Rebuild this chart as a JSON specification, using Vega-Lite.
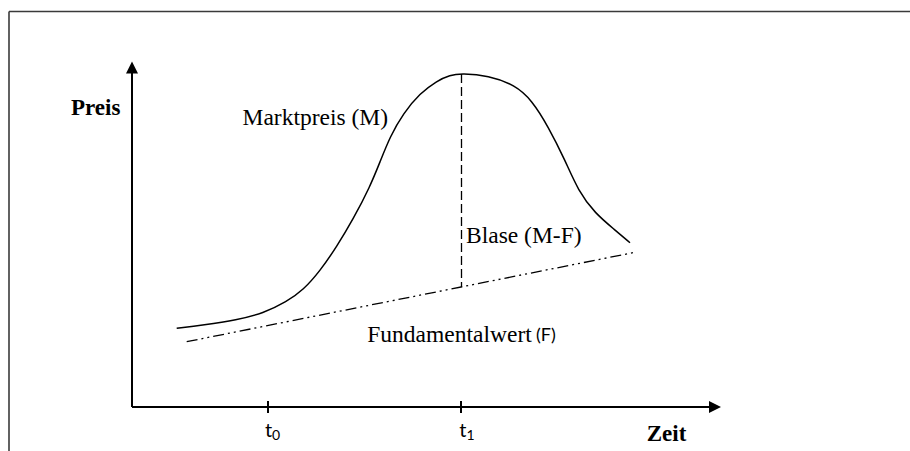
{
  "$schema": "https://vega.github.io/schema/vega-lite/v6.json",
  "width": 910,
  "height": 451,
  "padding": 0,
  "autosize": {"type": "none"},
  "background": "white",
  "view": {"stroke": null},
  "config": {"axis": {"disable": true}},
  "datasets": {
    "market": [
      {"t": 4.47, "p": 7.87}, {"t": 7.13, "p": 8.2}, {"t": 10.47, "p": 8.7}, {"t": 13.13, "p": 9.37},
      {"t": 15.47, "p": 10.53}, {"t": 17.13, "p": 11.7}, {"t": 18.8, "p": 13.6}, {"t": 20.47, "p": 16.03},
      {"t": 22.13, "p": 18.8}, {"t": 23.8, "p": 22.03}, {"t": 24.8, "p": 24.5}, {"t": 25.8, "p": 27.03},
      {"t": 27.13, "p": 29.37}, {"t": 28.8, "p": 31.37}, {"t": 30.47, "p": 32.6}, {"t": 31.8, "p": 33.2},
      {"t": 32.97, "p": 33.35}, {"t": 35.63, "p": 33.15}, {"t": 38.3, "p": 32.2}, {"t": 39.97, "p": 30.7},
      {"t": 41.63, "p": 28.03}, {"t": 43.3, "p": 24.7}, {"t": 44.63, "p": 21.6}, {"t": 46.3, "p": 19.37},
      {"t": 48.3, "p": 17.7}, {"t": 49.8, "p": 16.43}
    ],
    "fundamental": [
      {"t": 5.47, "p": 6.53}, {"t": 50.3, "p": 15.47}
    ],
    "segments": [
      {"kind": "frame", "x": -12.3, "x2": 77.8, "y": 39.55, "y2": 39.55},
      {"kind": "frame", "x": -12.3, "x2": -12.3, "y": 39.55, "y2": -4.4},
      {"kind": "axis", "x": 0, "x2": 0, "y": 0, "y2": 33.9},
      {"kind": "axis", "x": 0, "x2": 58.0, "y": 0, "y2": 0},
      {"kind": "axis", "x": 13.6, "x2": 13.6, "y": -0.6, "y2": 0.6},
      {"kind": "axis", "x": 32.9, "x2": 32.9, "y": -0.6, "y2": 0.6},
      {"kind": "bubble", "x": 32.95, "x2": 32.95, "y": 33.3, "y2": 12.0}
    ],
    "arrows": [
      {"dir": "up", "x": 0, "y": 33.95},
      {"dir": "right", "x": 58.3, "y": 0}
    ],
    "labels": [
      {"kind": "boldserif", "x": -6.1, "y": 29.2, "text": "Preis"},
      {"kind": "boldserif", "x": 51.47, "y": -3.4, "text": "Zeit"},
      {"kind": "serif", "x": 11.05, "y": 28.2, "text": "Marktpreis (M)"},
      {"kind": "serif", "x": 33.4, "y": 16.43, "text": "Blase (M-F)"},
      {"kind": "serif", "x": 23.53, "y": 6.53, "text": "Fundamentalwert"},
      {"kind": "sans", "x": 40.4, "y": 6.6, "text": "(F)"},
      {"kind": "tick", "x": 13.3, "y": -3.0, "text": "t"},
      {"kind": "tick", "x": 32.73, "y": -3.0, "text": "t"},
      {"kind": "sub", "x": 14.0, "y": -3.3, "text": "0"},
      {"kind": "sub", "x": 33.45, "y": -3.3, "text": "1"}
    ]
  },
  "layer": [
    {
      "data": {"name": "segments"},
      "transform": [{"filter": "datum.kind === 'frame'"}],
      "mark": {"type": "rule", "color": "#3a3a3a", "strokeWidth": 1.6},
      "encoding": {
        "x": {"field": "x", "type": "quantitative", "scale": {"domain": [-13.2, 77.8], "nice": false, "zero": false}, "axis": null},
        "x2": {"field": "x2"},
        "y": {"field": "y", "type": "quantitative", "scale": {"domain": [-4.4, 40.7], "nice": false, "zero": false}, "axis": null},
        "y2": {"field": "y2"}
      }
    },
    {
      "data": {"name": "segments"},
      "transform": [{"filter": "datum.kind === 'axis'"}],
      "mark": {"type": "rule", "color": "black", "strokeWidth": 2},
      "encoding": {
        "x": {"field": "x", "type": "quantitative"},
        "x2": {"field": "x2"},
        "y": {"field": "y", "type": "quantitative"},
        "y2": {"field": "y2"}
      }
    },
    {
      "data": {"name": "segments"},
      "transform": [{"filter": "datum.kind === 'bubble'"}],
      "mark": {"type": "rule", "color": "black", "strokeWidth": 1.3, "strokeDash": [9, 4]},
      "encoding": {
        "x": {"field": "x", "type": "quantitative"},
        "x2": {"field": "x2"},
        "y": {"field": "y", "type": "quantitative"},
        "y2": {"field": "y2"}
      }
    },
    {
      "data": {"name": "arrows"},
      "transform": [{"filter": "datum.dir === 'up'"}],
      "mark": {"type": "point", "shape": "M0,-1L1,1L-1,1Z", "size": 144, "filled": true, "color": "black", "opacity": 1},
      "encoding": {
        "x": {"field": "x", "type": "quantitative"},
        "y": {"field": "y", "type": "quantitative"}
      }
    },
    {
      "data": {"name": "arrows"},
      "transform": [{"filter": "datum.dir === 'right'"}],
      "mark": {"type": "point", "shape": "M1,0L-1,-1L-1,1Z", "size": 144, "filled": true, "color": "black", "opacity": 1},
      "encoding": {
        "x": {"field": "x", "type": "quantitative"},
        "y": {"field": "y", "type": "quantitative"}
      }
    },
    {
      "data": {"name": "market"},
      "mark": {"type": "line", "color": "black", "strokeWidth": 1.5, "interpolate": "basis"},
      "encoding": {
        "x": {"field": "t", "type": "quantitative"},
        "y": {"field": "p", "type": "quantitative"}
      }
    },
    {
      "data": {"name": "fundamental"},
      "mark": {"type": "line", "color": "black", "strokeWidth": 1.3, "strokeDash": [11, 4, 2, 4, 2, 4]},
      "encoding": {
        "x": {"field": "t", "type": "quantitative"},
        "y": {"field": "p", "type": "quantitative"}
      }
    },
    {
      "data": {"name": "labels"},
      "transform": [{"filter": "datum.kind === 'boldserif'"}],
      "mark": {"type": "text", "align": "left", "baseline": "alphabetic", "font": "Liberation Serif", "fontWeight": "bold", "fontSize": 23, "color": "black"},
      "encoding": {
        "x": {"field": "x", "type": "quantitative"},
        "y": {"field": "y", "type": "quantitative"},
        "text": {"field": "text"}
      }
    },
    {
      "data": {"name": "labels"},
      "transform": [{"filter": "datum.kind === 'serif'"}],
      "mark": {"type": "text", "align": "left", "baseline": "alphabetic", "font": "Liberation Serif", "fontSize": 23.5, "color": "black"},
      "encoding": {
        "x": {"field": "x", "type": "quantitative"},
        "y": {"field": "y", "type": "quantitative"},
        "text": {"field": "text"}
      }
    },
    {
      "data": {"name": "labels"},
      "transform": [{"filter": "datum.kind === 'sans'"}],
      "mark": {"type": "text", "align": "left", "baseline": "alphabetic", "font": "Lato", "fontSize": 18, "color": "black"},
      "encoding": {
        "x": {"field": "x", "type": "quantitative"},
        "y": {"field": "y", "type": "quantitative"},
        "text": {"field": "text"}
      }
    },
    {
      "data": {"name": "labels"},
      "transform": [{"filter": "datum.kind === 'tick'"}],
      "mark": {"type": "text", "align": "left", "baseline": "alphabetic", "font": "Lato", "fontSize": 20, "color": "black"},
      "encoding": {
        "x": {"field": "x", "type": "quantitative"},
        "y": {"field": "y", "type": "quantitative"},
        "text": {"field": "text"}
      }
    },
    {
      "data": {"name": "labels"},
      "transform": [{"filter": "datum.kind === 'sub'"}],
      "mark": {"type": "text", "align": "left", "baseline": "alphabetic", "font": "Lato", "fontSize": 14, "color": "black"},
      "encoding": {
        "x": {"field": "x", "type": "quantitative"},
        "y": {"field": "y", "type": "quantitative"},
        "text": {"field": "text"}
      }
    }
  ]
}
